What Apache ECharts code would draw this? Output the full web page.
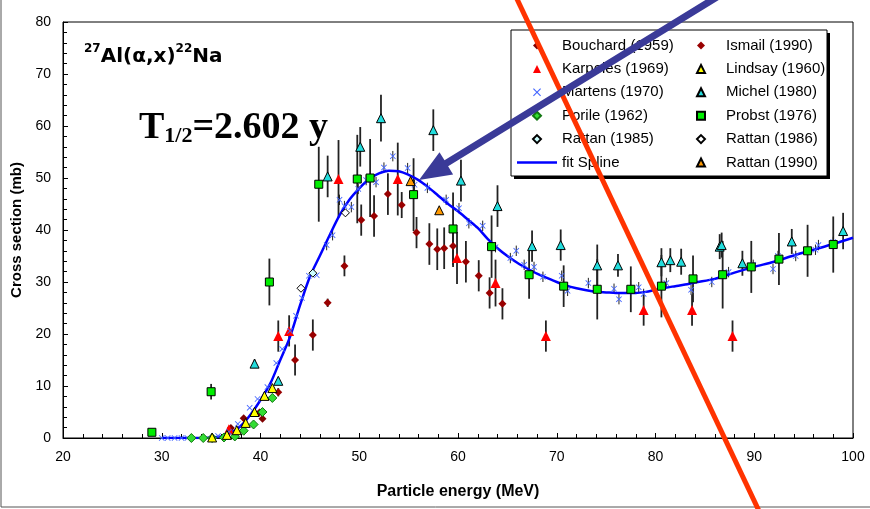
<!DOCTYPE html>
<html><head><meta charset="utf-8">
<script src="https://cdn.jsdelivr.net/npm/echarts@6/dist/echarts.min.js"></script>
<style>html,body{margin:0;padding:0;background:#fff}#c{width:870px;height:509px}</style>
</head><body><div id="c"></div>
<script>
// [energy MeV, cross section mb, error mb]
const bouchard = [[37.0,1.9,0],[38.3,3.8,0],[39.9,4.9,0],[40.2,3.7,0]];
const ismail = [[41.8,8.8,0.8],[43.5,15.0,3],[45.3,19.8,3],[46.8,26.0,0.8],[48.5,33.1,2],[50.2,41.9,3],[51.5,42.7,4],[52.9,46.9,4],[54.3,44.8,2.5],[55.8,39.5,3],[57.1,37.3,4],[57.9,36.3,4],[58.6,36.5,4],[59.5,36.9,4],[60.8,33.9,4],[62.1,31.2,3],[63.2,27.9,3],[64.5,25.8,3]];
const karpeles = [[36.8,1.7,0.5],[41.8,19.6,3],[42.9,20.6,3],[47.9,49.8,7.5],[53.9,49.8,7],[59.9,34.6,5],[63.8,29.8,4.5],[68.9,19.6,3],[78.8,24.6,3],[83.7,24.6,3],[87.8,19.6,3]];
const lindsay = [[35.1,0.1,0],[36.6,0.6,0],[37.6,1.5,0],[38.5,2.9,0],[39.4,5.0,0],[40.4,8.1,0],[41.2,9.6,0]];
const martens = [[30.0,0,0],[30.6,0,0],[31.3,0,0],[32.0,0,0],[32.6,0,0],[35.7,0.4,0],[36.8,1.2,0],[37.7,2.7,0],[38.9,5.8,0],[39.7,7.5,0],[40.7,9.8,0],[41.6,14.4,0],[42.2,17.1,0],[43.0,20.6,0],[43.6,23.5,0],[44.2,26.9,0],[44.9,31.2,0],[45.7,31.3,0],[46.7,37.1,1],[47.3,39.0,1],[48.0,45.8,1],[48.5,44.6,1],[49.2,44.4,1],[49.9,47.9,1],[50.7,49.6,1],[51.7,49.2,1],[52.5,52.0,1],[53.4,54.2,1],[54.9,51.9,1],[55.6,48.7,1],[56.9,48.1,1],[58.8,45.8,1],[60.1,44.2,1],[61.1,41.3,1],[62.5,40.8,1],[63.8,36.7,1],[65.3,34.6,1],[65.9,36.0,1],[66.7,33.3,1],[67.7,32.9,1],[68.6,31.0,1],[70.5,31.2,1],[71.1,28.3,1],[73.2,29.8,1],[75.8,28.7,1],[76.3,26.7,1],[78.3,29.0,1],[78.8,27.7,1],[81.1,29.8,1],[83.6,28.5,1],[85.7,30.0,1],[87.4,31.9,1],[89.9,33.3,1],[91.9,32.5,1],[92.4,35.0,1],[94.2,35.0,1],[96.2,36.2,1],[96.5,37.1,1],[98.0,37.7,1]];
const michel = [[39.4,14.3,0.8],[41.8,11.0,0.5],[46.8,50.3,4],[50.1,56.0,3.8],[52.2,61.5,4.5],[57.5,59.2,4],[60.3,49.5,4],[64.0,44.6,4],[67.5,36.9,3],[70.4,37.1,3],[74.1,33.2,4],[76.2,33.2,2.2],[80.6,33.8,2.7],[81.5,34.2,2.3],[82.6,33.9,2.5],[86.5,36.8,2.4],[86.7,37.1,2.4],[88.8,33.6,2.4],[93.8,37.8,2.4],[99.0,39.8,3.5]];
const porile = [[33.0,0,0],[34.2,0,0],[35.1,0,0],[36.3,0.1,0],[37.4,0.3,0],[38.3,1.4,0],[39.3,2.6,0],[40.2,5.0,0],[41.2,7.7,0]];
const probst = [[29.0,1.1,0],[35.0,8.9,1.5],[40.9,30.0,4.5],[45.9,48.8,7.2],[49.8,49.8,8.5],[51.1,50.0,7.5],[55.5,46.8,7],[59.5,40.2,7],[63.4,36.8,6],[67.2,31.4,4.6],[70.7,29.2,4],[74.1,28.6,5.8],[77.5,28.6,4.4],[80.6,29.2,6],[83.8,30.6,4.5],[86.8,31.4,6.5],[89.7,32.9,5],[92.5,34.4,5],[95.4,36.0,5],[98.0,37.2,5.4]];
const rattan1985 = [[45.3,31.7,0]];
const rattan1986 = [[44.1,28.8,0],[48.6,43.3,0]];
const rattan1990 = [[55.2,49.4,0],[58.1,43.8,0]];
const splineE = [30,32,34,35,36,37,38,39,40,41,42,43,44,45,46,47,48,49,50,51,52,53,54,55,56,57,58,59,60,61,62,63,64,65,66,67,68,69,70,71,72,73,74,75,76,77,78,79,80,81,82,83,84,86,88,90,92,94,96,98,100];
const splineS = [0,0,0,0.1,0.3,1.0,2.3,4.5,7.3,10.5,15.0,19.5,25.5,31,35,39,42.8,45.8,48.0,49.8,50.9,51.4,51.3,50.6,49.6,48.2,46.6,45.0,43.6,42.0,40.4,38.3,36.5,35.0,33.7,32.6,31.6,30.8,30.0,29.3,28.8,28.4,28.1,28.0,27.9,27.9,27.9,28.1,28.5,28.9,29.2,29.5,29.9,30.6,31.8,32.9,33.9,35.1,36.2,37.3,38.5];
const xTicks = [20,30,40,50,60,70,80,90,100];
const yTicks = [0,10,20,30,40,50,60,70,80];

const XSYM = 'path://M0,1 L1,0 L5,4 L9,0 L10,1 L6,5 L10,9 L9,10 L5,6 L1,10 L0,9 L4,5 Z';
const P_DIAMOND = 'path://M5,0 L10,5 L5,10 L0,5 Z';
const P_TRI = 'path://M5,0 L10,10 L0,10 Z';
const P_RECT = 'path://M0,0 L10,0 L10,10 L0,10 Z';
const P_LINE = 'path://M0,0 L40,0 L40,2.6 L0,2.6 Z';
const FONT = 'Liberation Sans, Arial, sans-serif';

function sc(name, data, symbol, size, color, border) {
  return {type:'scatter', name:name, data:data.map(d=>[d[0],d[1]]), symbol:symbol, symbolSize:size, z:4,
    itemStyle:{color:color, borderColor:border||color, borderWidth:border?1:0, opacity:1}};
}
function err(name, data, color, width) {
  return {type:'custom', name:'err '+name, z:1, silent:true,
    data:data.filter(d=>d[2]>0).map(d=>[d[0], d[1]-d[2], d[1]+d[2]]),
    encode:{x:0, y:[1,2]},
    renderItem:function(params, api){
      const a = api.coord([api.value(0), api.value(1)]);
      const b = api.coord([api.value(0), api.value(2)]);
      return {type:'line', shape:{x1:a[0],y1:a[1],x2:b[0],y2:b[1]}, style:{stroke:color, lineWidth:width}};
    }};
}

const chart = echarts.init(document.getElementById('c'), null, {renderer:'canvas'});
const legendText = {fontSize:15, fontFamily:FONT, color:'#000'};
const lg = (n, icon) => ({name:n, icon:icon});
chart.setOption({
  backgroundColor:'#fff',
  animation:false,
  textStyle:{fontFamily:FONT},
  grid:{left:63, right:17, top:22, bottom:71, show:true, borderColor:'#000', borderWidth:1, backgroundColor:'transparent'},
  xAxis:{type:'value', min:20, max:100, interval:10,
    name:'Particle energy (MeV)', nameLocation:'middle', nameGap:46,
    nameTextStyle:{fontSize:16, fontWeight:'bold', color:'#000', fontFamily:FONT},
    axisLine:{lineStyle:{color:'#000', width:1}},
    axisTick:{inside:true, length:5, lineStyle:{color:'#000'}},
    minorTick:{show:true, splitNumber:5, length:4, lineStyle:{color:'#000'}},
    splitLine:{show:false},
    axisLabel:{fontSize:14, color:'#000', margin:12, fontFamily:FONT, formatter:v=>xTicks.includes(v)?String(v):''}},
  yAxis:{type:'value', min:0, max:80, interval:10,
    name:'Cross section (mb)', nameLocation:'middle', nameGap:38, nameRotate:90,
    nameTextStyle:{fontSize:15, fontWeight:'bold', color:'#000', fontFamily:FONT},
    axisLine:{show:true, lineStyle:{color:'#000', width:1}},
    axisTick:{show:true, inside:true, length:5, lineStyle:{color:'#000'}},
    minorTick:{show:true, splitNumber:5, length:4, lineStyle:{color:'#000'}},
    splitLine:{show:false},
    axisLabel:{fontSize:14, color:'#000', margin:12, fontFamily:FONT, formatter:v=>yTicks.includes(v)?String(v):''}},
  legend:[
    {orient:'vertical', left:512, top:33, itemWidth:40, itemHeight:8, itemGap:8.4, textStyle:legendText, selectedMode:false,
     data:[lg('Bouchard (1959)',P_DIAMOND),lg('Karpeles (1969)',P_TRI),lg('Martens (1970)',XSYM),lg('Porile (1962)',P_DIAMOND),lg('Rattan (1985)',P_DIAMOND),lg('fit Spline',P_LINE)]},
    {orient:'vertical', left:691, top:33, itemWidth:40, itemHeight:8, itemGap:8.4, textStyle:legendText, selectedMode:false,
     data:[lg('Ismail (1990)',P_DIAMOND),lg('Lindsay (1960)',P_TRI),lg('Michel (1980)',P_TRI),lg('Probst (1976)',P_RECT),lg('Rattan (1986)',P_DIAMOND),lg('Rattan (1990)',P_TRI)]}
  ],
  series:[
    sc('Bouchard (1959)', bouchard, 'diamond', 8, '#800000'),
    sc('Karpeles (1969)', karpeles, 'triangle', 10, '#ff0000'),
    sc('Martens (1970)', martens, XSYM, 6, '#4466ff'),
    sc('Porile (1962)', porile, 'diamond', 9, '#33dd33', '#117711'),
    sc('Rattan (1985)', rattan1985, 'diamond', 8, '#ccffff', '#000'),
    {type:'line', name:'fit Spline', data:splineE.map((e,i)=>[e, splineS[i]]), symbol:'none', smooth:0.3, z:3,
     lineStyle:{color:'#0000ff', width:2.5}, itemStyle:{color:'#0000ff'}},
    sc('Ismail (1990)', ismail, 'diamond', 8, '#990000'),
    sc('Lindsay (1960)', lindsay, 'triangle', 9, '#ffff00', '#000'),
    sc('Michel (1980)', michel, 'triangle', 9, '#22dddd', '#000'),
    sc('Probst (1976)', probst, 'rect', 8, '#00ee00', '#000'),
    sc('Rattan (1986)', rattan1986, 'diamond', 8, '#ffffff', '#000'),
    sc('Rattan (1990)', rattan1990, 'triangle', 9, '#ff9900', '#000'),
    err('probst', probst, '#222', 1.8),
    err('michel', michel, '#222', 1.8),
    err('karpeles', karpeles, '#222', 1.8),
    err('ismail', ismail, '#222', 1.8),
    err('martens', martens, '#222', 1)
  ],
  graphic:[
    {type:'line', z:0, shape:{x1:1, y1:0, x2:1, y2:507}, style:{stroke:'#555', lineWidth:1}},
    {type:'line', z:0, shape:{x1:1, y1:507, x2:870, y2:507}, style:{stroke:'#555', lineWidth:1}},
    {type:'rect', z:1, shape:{x:514, y:33, width:316, height:146}, style:{fill:'#000'}},
    {type:'rect', z:1, shape:{x:511, y:30, width:316, height:146}, style:{fill:'#fff', stroke:'#000', lineWidth:1}},
    {type:'text', z:5, left:84, top:43, style:{
      text:'{s|27}{m|Al(α,x)}{s|22}{m|Na}',
      rich:{s:{fontSize:12, fontWeight:'bold', fontFamily:'DejaVu Sans, sans-serif', verticalAlign:'top', lineHeight:13},
            m:{fontSize:20, fontWeight:'bold', fontFamily:'DejaVu Sans, sans-serif', verticalAlign:'bottom', lineHeight:24}}}},
    {type:'text', z:5, left:139, top:109, style:{
      text:'{t|T}{s|1/2}{t|=2.602 y}',
      rich:{t:{fontSize:38, fontWeight:'bold', fontFamily:'Liberation Serif, Times New Roman, serif', verticalAlign:'top', lineHeight:38, padding:[0,0,8,0]},
            s:{fontSize:22, fontWeight:'bold', fontFamily:'Liberation Serif, Times New Roman, serif', verticalAlign:'bottom', lineHeight:22}}}},
    {type:'line', z:100, shape:{x1:508, y1:-20, x2:768, y2:530}, style:{stroke:'#ff3300', lineWidth:5}},
    {type:'polygon', z:100, shape:{points:[[419,180],[453.1,174.4],[448.1,166.3],[731.8,-8],[728.2,-14],[444.5,160.3],[439.5,152.2]]},
     style:{fill:'#3a3a98'}}
  ]
});
</script></body></html>
